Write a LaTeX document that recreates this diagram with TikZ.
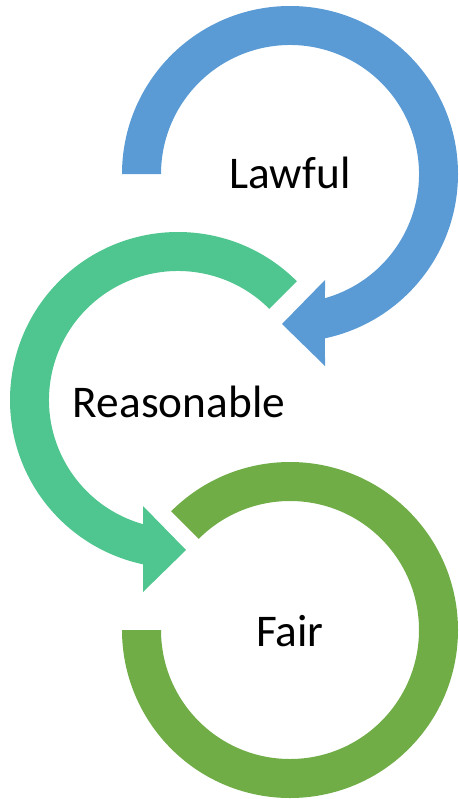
\documentclass[tikz,border=0pt]{standalone}
\usepackage{fontspec}
\setmainfont{Carlito}
\definecolor{lawblue}{HTML}{5B9BD5}
\definecolor{reasteal}{HTML}{4FC58F}
\definecolor{fairgreen}{HTML}{70AD47}
\tikzset{
  ringlabel/.style={anchor=base,font=\fontsize{34}{37}\selectfont,text=black},
}
\begin{document}
\begin{tikzpicture}[x=0.75pt,y=0.75pt,line join=miter]
\useasboundingbox (0,0) rectangle (459,-799);
% Lawful ring, clockwise
\begin{scope}[shift={(290,-174)}]
\fill[lawblue] (180:168) arc[start angle=180,end angle=-77.98,radius=168]
  -- (35,-192) -- (-8,-150) -- (35,-106) -- (-74.26:129)
  arc[start angle=-74.26,end angle=180,radius=129] -- cycle;
\end{scope}
% Reasonable ring, counterclockwise
\begin{scope}[shift={(178,-400)}]
\fill[reasteal] (45:168) arc[start angle=45,end angle=257.98,radius=168]
  -- (-35,-192) -- (8,-150) -- (-35,-106) -- (254.26:129)
  arc[start angle=254.26,end angle=45,radius=129] -- cycle;
\end{scope}
% Fair ring
\begin{scope}[shift={(290,-630)}]
\fill[fairgreen] (135:168) arc[start angle=135,end angle=-180,radius=168]
  -- (-180:129) arc[start angle=-180,end angle=135,radius=129] -- cycle;
\end{scope}
\node[ringlabel] (lawful) at (290,-188) {Lawful};
\node[ringlabel] (reasonable) at (179,-417) {Reasonable};
\node[ringlabel] (fair) at (290,-646) {Fair};
\end{tikzpicture}
\end{document}
